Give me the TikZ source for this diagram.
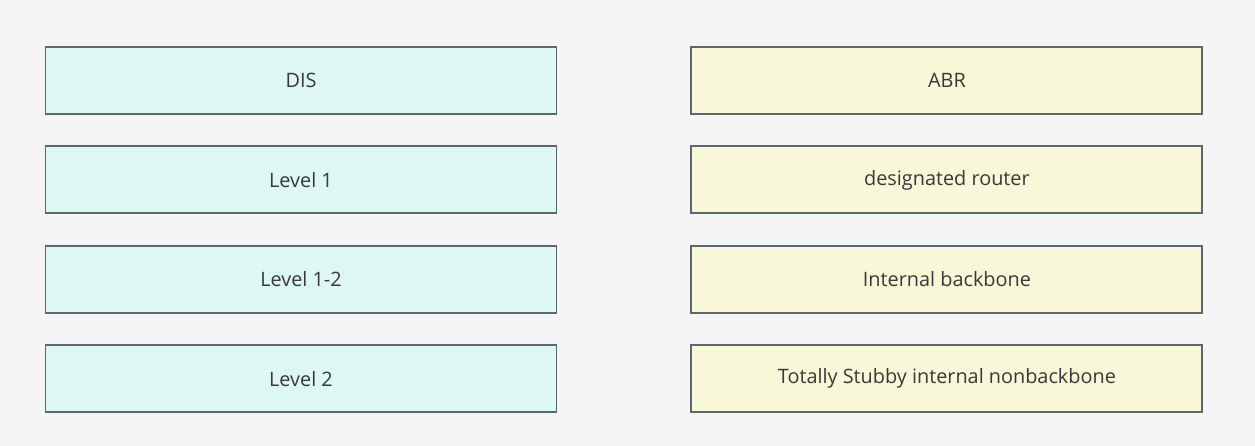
\documentclass[tikz,border=0pt]{standalone}
\usepackage{fontspec}
\setmainfont{Open Sans}
\usepackage{xcolor}
\usetikzlibrary{positioning}

\definecolor{bgpanel}{HTML}{F5F5F5}
\definecolor{edgegray}{HTML}{5C686E}
\definecolor{termcyan}{HTML}{DDF7F3}
\definecolor{defyellow}{HTML}{F8F8D8}
\definecolor{labeltext}{HTML}{383838}

\begin{document}
\begin{tikzpicture}[
  node distance=0.61cm and 2.66cm,
  box/.style={rectangle,draw=edgegray,line width=1.1pt,minimum height=1.34cm,minimum width=10.22cm,align=center,text=labeltext,font=\fontsize{11.3}{13}\selectfont},
  term/.style={box,fill=termcyan},
  defn/.style={box,fill=defyellow},
]
\fill[bgpanel] (0,0) rectangle (25.1,-8.92);
\useasboundingbox (0,0) rectangle (25.1,-8.92);

\node[term] (dis) at (6.02,-1.61) {DIS};
\node[term,below=of dis] (lone) {Level 1};
\node[term,below=of lone] (lonetwo) {Level 1-2};
\node[term,below=of lonetwo] (ltwo) {Level 2};

\node[defn,right=of dis] (abr) {ABR};
\node[defn,below=of abr] (desig) {designated router};
\node[defn,below=of desig] (intbb) {Internal backbone};
\node[defn,below=of intbb] (stubby) {Totally Stubby internal nonbackbone};
\end{tikzpicture}
\end{document}
